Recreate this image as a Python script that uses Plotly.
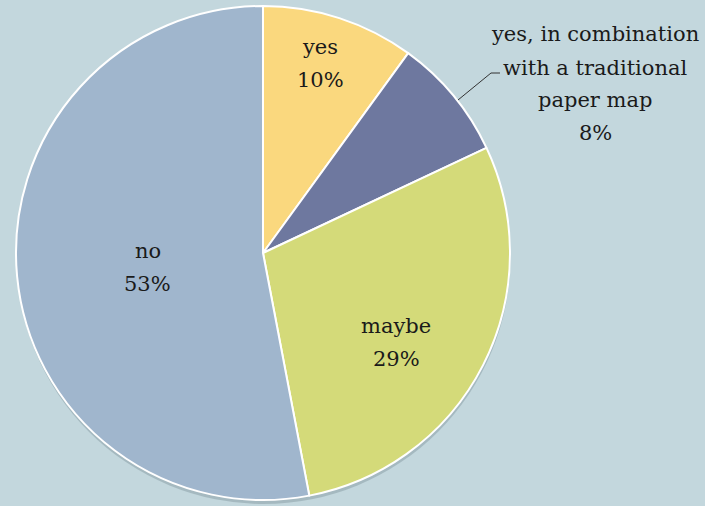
import math
import plotly.graph_objects as go

# Survey answers, clockwise from 12 o'clock
labels = ["yes", "yes, in combination<br>with a traditional<br>paper map", "maybe", "no"]
values = [10, 8, 29, 53]
colors = ["#FAD87E", "#6E789F", "#D4DA79", "#A0B6CD"]

W, H = 705, 506
cx, cy, r = 263, 253, 247  # pixel centre and radius of the pie
LINE = 33                  # line pitch of the label text, px

def dom(x0, x1, y0, y1):
    return dict(x=[x0 / W, x1 / W], y=[1 - y1 / H, 1 - y0 / H])

fig = go.Figure()

# soft drop shadow under the pie
fig.add_trace(go.Pie(
    values=[1], marker=dict(colors=["rgba(60,80,90,0.22)"], line=dict(width=0)),
    textinfo="none", hoverinfo="skip", sort=False,
    domain=dom(cx - r, cx + r + 1, cy - r + 4, cy + r + 4), showlegend=False,
))

fig.add_trace(go.Pie(
    labels=labels, values=values, sort=False, direction="clockwise", rotation=0,
    marker=dict(colors=colors, line=dict(color="white", width=2)),
    textinfo="none", showlegend=False,
    domain=dom(cx - r, cx + r, cy - r, cy + r),
))

font = dict(family="DejaVu Serif", size=21, color="#1a1a1a")

def text_block(x, y, lines):
    """Centred multi-line label with a fixed line pitch."""
    n = len(lines)
    for k, s in enumerate(lines):
        yy = y + (k - (n - 1) / 2) * LINE
        fig.add_annotation(x=x / W, y=1 - yy / H, xref="paper", yref="paper",
                           text=s, showarrow=False, font=font,
                           xanchor="center", yanchor="middle")

# slice bisector angles (radians, clockwise from 12 o'clock)
total = sum(values)
cum = 0
mids = []
for v in values:
    mids.append((cum + v / 2) / total * 2 * math.pi)
    cum += v

# inside labels: (radius fraction, angular nudge in degrees)
inside = {0: (0.80, -1.2), 2: (0.65, 6.8), 3: (0.47, -2.0)}
for i, (f, da) in inside.items():
    a = mids[i] + math.radians(da)
    px = cx + f * r * math.sin(a)
    py = cy - f * r * math.cos(a)
    text_block(px, py, labels[i].split("<br>") + [f"{values[i]}%"])

# outside label with leader line for the small slice
text_block(595, 84, labels[1].split("<br>") + [f"{values[1]}%"])
fig.add_shape(type="path", xref="paper", yref="paper",
              path=f"M {458/W} {1-100/H} L {491/W} {1-73/H} L {500/W} {1-73/H}",
              line=dict(color="#333333", width=1))

fig.update_layout(
    width=W, height=H, margin=dict(l=0, r=0, t=0, b=0),
    paper_bgcolor="#C3D7DD", plot_bgcolor="#C3D7DD",
    font=dict(family="DejaVu Serif"),
)

fig.write_html("out.html")
